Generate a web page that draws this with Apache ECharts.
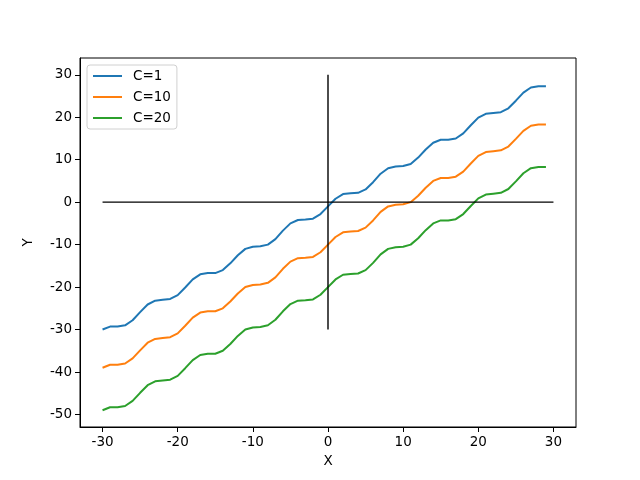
<!DOCTYPE html>
<html>
<head>
<meta charset="utf-8">
<script src="https://cdn.jsdelivr.net/npm/echarts@6/dist/echarts.min.js"></script>
<style>
  html, body { margin: 0; padding: 0; background: #fff; }
  #chart { width: 640px; height: 480px; }
</style>
</head>
<body>
<div id="chart"></div>
<script>
const xValues = [-30, -29, -28, -27, -26, -25, -24, -23, -22, -21, -20, -19, -18, -17, -16, -15, -14, -13, -12, -11,
    -10, -9, -8, -7, -6, -5, -4, -3, -2, -1, 0, 1, 2, 3, 4, 5, 6, 7, 8, 9,
    10, 11, 12, 13, 14, 15, 16, 17, 18, 19, 20, 21, 22, 23, 24, 25, 26, 27, 28, 29];

const c1 = [-30.0, -29.3, -29.3, -29.0, -27.8, -25.9, -24.1, -23.2, -23.0, -22.8,
    -21.9, -20.1, -18.2, -17.0, -16.7, -16.7, -16.0, -14.4, -12.5, -11.0,
    -10.5, -10.4, -10.0, -8.7, -6.7, -5.0, -4.2, -4.1, -3.9, -2.8,
    -1.0, 0.8, 1.9, 2.1, 2.2, 3.0, 4.7, 6.7, 8.0, 8.4,
    8.5, 9.0, 10.5, 12.4, 14.0, 14.7, 14.7, 15.0, 16.2, 18.1,
    19.9, 20.8, 21.0, 21.2, 22.1, 23.9, 25.8, 27.0, 27.3, 27.3];

const c10 = [-39.0, -38.3, -38.3, -38.0, -36.8, -34.9, -33.1, -32.2, -32.0, -31.8,
    -30.9, -29.1, -27.2, -26.0, -25.7, -25.7, -25.0, -23.4, -21.5, -20.0,
    -19.5, -19.4, -19.0, -17.7, -15.7, -14.0, -13.2, -13.1, -12.9, -11.8,
    -10.0, -8.2, -7.1, -6.9, -6.8, -6.0, -4.3, -2.3, -1.0, -0.6,
    -0.5, 0.0, 1.5, 3.4, 5.0, 5.7, 5.7, 6.0, 7.2, 9.1,
    10.9, 11.8, 12.0, 12.2, 13.1, 14.9, 16.8, 18.0, 18.3, 18.3];

const c20 = [-49.0, -48.3, -48.3, -48.0, -46.8, -44.9, -43.1, -42.2, -42.0, -41.8,
    -40.9, -39.1, -37.2, -36.0, -35.7, -35.7, -35.0, -33.4, -31.5, -30.0,
    -29.5, -29.4, -29.0, -27.7, -25.7, -24.0, -23.2, -23.1, -22.9, -21.8,
    -20.0, -18.2, -17.1, -16.9, -16.8, -16.0, -14.3, -12.3, -11.0, -10.6,
    -10.5, -10.0, -8.5, -6.6, -5.0, -4.3, -4.3, -4.0, -2.8, -0.9,
    0.9, 1.8, 2.0, 2.2, 3.1, 4.9, 6.8, 8.0, 8.3, 8.3];

const hLine = [[-30, 0], [30, 0]];
const vLine = [[0, -30], [0, 30]];

const xTicks = [-30, -20, -10, 0, 10, 20, 30];
const yTicks = [-50, -40, -30, -20, -10, 0, 10, 20, 30];

const seriesNames = ['C=1', 'C=10', 'C=20'];
const seriesColors = ['#1f77b4', '#ff7f0e', '#2ca02c'];

const font = 'DejaVu Sans';

function pairs(ys) {
    return xValues.map((x, i) => [x, ys[i]]);
}

const chart = echarts.init(document.getElementById('chart'), null, { renderer: 'canvas' });

const axisCommon = {
    type: 'value',
    axisLine: { show: true, onZero: false, lineStyle: { color: '#000', width: 1 } },
    splitLine: { show: false },
    axisLabel: { color: '#000', fontFamily: font, fontSize: 13.5 },
    axisTick: { show: true, inside: false, length: 5, lineStyle: { color: '#000', width: 1 } },
    nameTextStyle: { color: '#000', fontFamily: font, fontSize: 13.5 }
};

const lineSeries = [c1, c10, c20].map((ys, i) => ({
    name: seriesNames[i],
    type: 'line',
    data: pairs(ys),
    symbol: 'none',
    smooth: false,
    animation: false,
    lineStyle: { color: seriesColors[i], width: 2 },
    itemStyle: { color: seriesColors[i] },
    z: 2
}));

const blackLines = [hLine, vLine].map((d) => ({
    type: 'line',
    data: d,
    symbol: 'none',
    animation: false,
    silent: true,
    lineStyle: { color: '#000', width: 1.4 },
    z: 3
}));

chart.setOption({
    animation: false,
    backgroundColor: '#fff',
    grid: {
        left: 80, right: 64, top: 58, bottom: 53,
        show: true, borderColor: '#000', borderWidth: 1, backgroundColor: 'transparent'
    },
    xAxis: Object.assign({}, axisCommon, {
        min: -33, max: 33,
        name: 'X', nameLocation: 'middle', nameGap: 27,
        axisLabel: Object.assign({}, axisCommon.axisLabel, { margin: 8, customValues: xTicks }),
        axisTick: Object.assign({}, axisCommon.axisTick, { customValues: xTicks })
    }),
    yAxis: Object.assign({}, axisCommon, {
        min: -52.95, max: 33.95,
        name: 'Y', nameLocation: 'middle', nameGap: 45, nameRotate: 90,
        axisLabel: Object.assign({}, axisCommon.axisLabel, { margin: 8, customValues: yTicks }),
        axisTick: Object.assign({}, axisCommon.axisTick, { customValues: yTicks })
    }),
    legend: {
        data: seriesNames,
        orient: 'vertical',
        left: 87, top: 65,
        itemWidth: 29, itemHeight: 14, itemGap: 7,
        padding: [4, 6, 4, 5],
        backgroundColor: '#fff',
        borderColor: '#d0d0d0', borderWidth: 1, borderRadius: 3,
        itemStyle: { opacity: 0 },
        lineStyle: { width: 2 },
        textStyle: { color: '#000', fontFamily: font, fontSize: 13.5, padding: [0, 0, 0, 6] }
    },
    series: lineSeries.concat(blackLines)
});
</script>
</body>
</html>
